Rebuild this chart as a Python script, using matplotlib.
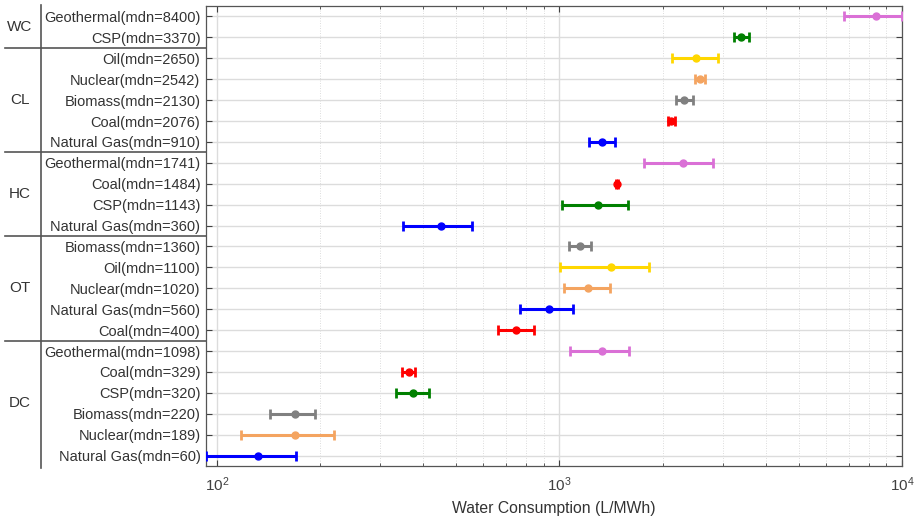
import matplotlib
matplotlib.use('Agg')
import matplotlib.pyplot as plt
import matplotlib.transforms as mtransforms
from matplotlib.lines import Line2D
from matplotlib.ticker import LogLocator, NullFormatter

plt.rcParams['font.family'] = ['Liberation Sans', 'DejaVu Sans']

# ---- data ----
groups = ['WC', 'CL', 'HC', 'OT', 'DC']
group_sizes = [2, 5, 4, 5, 6]
techs = ['Geothermal', 'CSP',
         'Oil', 'Nuclear', 'Biomass', 'Coal', 'Natural Gas',
         'Geothermal', 'Coal', 'CSP', 'Natural Gas',
         'Biomass', 'Oil', 'Nuclear', 'Natural Gas', 'Coal',
         'Geothermal', 'Coal', 'CSP', 'Biomass', 'Nuclear', 'Natural Gas']
medians = [8400, 3370,
           2650, 2542, 2130, 2076, 910,
           1741, 1484, 1143, 360,
           1360, 1100, 1020, 560, 400,
           1098, 329, 320, 220, 189, 60]
centers = [8420, 3390,
           2507, 2572, 2313, 2115, 1331,
           2288, 1476, 1299, 452,
           1148, 1411, 1211, 931, 745,
           1334, 364, 373, 169, 169, 132]
lows = [6773, 3222,
        2138, 2486, 2183, 2068, 1220,
        1767, 1466, 1019, 349,
        1065, 1001, 1033, 769, 660,
        1072, 348, 333, 143, 118, 93]
highs = [10000, 3584,
         2897, 2659, 2453, 2172, 1450,
         2802, 1487, 1582, 554,
         1240, 1827, 1402, 1095, 842,
         1593, 380, 417, 193, 220, 170]
tech_colors = {'Geothermal': '#DA70D6', 'CSP': '#008000', 'Oil': '#FFD700',
               'Nuclear': '#F4A460', 'Biomass': '#808080', 'Coal': '#FF0000',
               'Natural Gas': '#0000FF'}
xlabel = 'Water Consumption (L/MWh)'

# ---- figure ----
fig = plt.figure(figsize=(9.14, 5.19), dpi=100)
ax = fig.add_axes([0.2254, 0.1021, 0.9869 - 0.2254, 0.9884 - 0.1021])

txtc = '#333333'
for i, (t, c, lo, hi) in enumerate(zip(techs, centers, lows, highs)):
    col = tech_colors[t]
    ax.errorbar([c], [i], xerr=[[c - lo], [hi - c]], fmt='o', color=col,
                ecolor=col, elinewidth=2.2, capsize=3.5, capthick=2.0,
                markersize=5, zorder=3)

ax.set_xscale('log')
ax.set_xlim(93, 10000)
ax.set_ylim(len(techs) - 0.5, -0.5)
ax.set_yticks(range(len(techs)))
ax.set_yticklabels([f'{t}(mdn={m})' for t, m in zip(techs, medians)],
                   fontsize=10.5, color=txtc)
ax.xaxis.set_major_locator(LogLocator(base=10, numticks=10))
ax.xaxis.set_minor_locator(LogLocator(base=10, subs=range(2, 10), numticks=20))
ax.xaxis.set_minor_formatter(NullFormatter())
ax.tick_params(axis='x', labelsize=11, colors='#404040', labelcolor=txtc, pad=7)
ax.tick_params(which='both', direction='in', top=True, right=True, colors='#404040')
ax.tick_params(which='major', length=4, width=0.8)
ax.tick_params(which='minor', length=2.5, width=0.6)
ax.tick_params(axis='y', labelcolor=txtc, pad=4)
ax.set_xlabel(xlabel, fontsize=11.3, color=txtc, labelpad=5)

ax.grid(True, which='major', axis='both', color='#dcdcdc', linewidth=1.0, linestyle='-')
ax.grid(True, which='minor', axis='x', color='#d0d0d0', linewidth=0.6, linestyle=(0, (1, 2)))
ax.set_axisbelow(True)
for s in ax.spines.values():
    s.set_color('#555555')
    s.set_linewidth(0.9)

# group labels and separators
trans = mtransforms.blended_transform_factory(fig.transFigure, ax.transData)
vline_x = 41 / 914
start = 0
bounds = []
for g, n in zip(groups, group_sizes):
    mid = start + (n - 1) / 2
    ax.text(20 / 914, mid, g, transform=trans, ha='center', va='center',
            fontsize=11, color=txtc)
    start += n
    bounds.append(start - 0.5)
for b in bounds[:-1]:
    fig.add_artist(Line2D([5 / 914, 0.2254], [b, b], transform=trans,
                          color='#555555', linewidth=1.2))
fig.add_artist(Line2D([vline_x, vline_x], [-0.55, len(techs) - 0.4], transform=trans,
                      color='#555555', linewidth=1.2))

fig.savefig('out.png', dpi=100)
